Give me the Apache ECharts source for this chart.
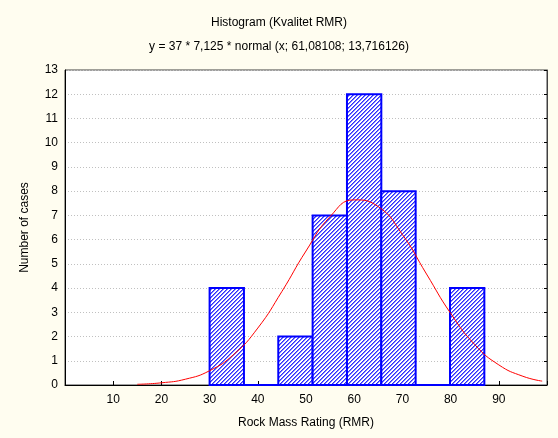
<!DOCTYPE html>
<html>
<head>
<meta charset="utf-8">
<title>Histogram (Kvalitet RMR)</title>
<script src="https://cdn.jsdelivr.net/npm/echarts@6/dist/echarts.min.js"></script>
<style>
    html, body { margin: 0; padding: 0; background: #fffdf0; }
    #chart { width: 558px; height: 438px; }
</style>
</head>
<body>
<div id="chart"></div>
<script>
//分组边界 (RMR)
var binEdges = [30, 37.125, 44.25, 51.375, 58.5, 65.625, 72.75, 79.875, 87];
//每组个数
var binCounts = [4, 0, 2, 7, 12, 8, 0, 4];
//正态曲线
var curveX = [15, 20, 25, 30, 35, 40, 45, 50, 55, 60, 65, 70, 75, 80, 85, 90, 95, 99];
var curveY = [0.03, 0.09, 0.24, 0.59, 1.26, 2.35, 3.86, 5.53, 6.95, 7.64, 7.36, 6.21, 4.58, 2.96, 1.67, 0.83, 0.36, 0.16];
//刻度
var xTicks = [10, 20, 30, 40, 50, 60, 70, 80, 90];

var chart;

//初始化
function init() {
    chart = echarts.init(document.getElementById('chart'));
    chart.setOption(buildOption());
}

//斜线填充
function hatchPattern() {
    var c = document.createElement('canvas');
    c.width = 4;
    c.height = 4;
    var ctx = c.getContext('2d');
    ctx.fillStyle = 'rgb(255,255,255)';
    ctx.fillRect(0, 0, 4, 4);
    ctx.fillStyle = 'rgb(45,45,255)';
    for (var i = 0; i < 4; i++) {
        ctx.fillRect(i, 3 - i, 1, 1);
    }
    ctx.fillStyle = 'rgb(125,125,255)';
    for (var j = 0; j < 4; j++) {
        ctx.fillRect((j + 1) % 4, 3 - j, 1, 1);
    }
    return c;
}

function buildOption() {
    var pattern = hatchPattern();
    var bins = [];
    for (var i = 0; i < binCounts.length; i++) {
        bins.push([binEdges[i], binEdges[i + 1], binCounts[i]]);
    }
    var curve = [];
    for (var k = 0; k < curveX.length; k++) {
        curve.push([curveX[k], curveY[k]]);
    }
    var font = 'Liberation Sans, Arial, sans-serif';

    return {
        backgroundColor: '#fffdf0',
        animation: false,
        textStyle: { fontFamily: font },
        title: [
            {
                text: 'Histogram (Kvalitet RMR)',
                left: 'center',
                top: 12,
                textStyle: { fontSize: 12, fontWeight: 'normal', color: '#000', fontFamily: font }
            },
            {
                text: 'y = 37 * 7,125 * normal (x; 61,08108; 13,716126)',
                left: 'center',
                top: 36,
                textStyle: { fontSize: 12, fontWeight: 'normal', color: '#000', fontFamily: font }
            }
        ],
        grid: {
            left: 65,
            right: 11,
            top: 70,
            bottom: 53,
            show: true,
            backgroundColor: '#ffffff',
            borderColor: '#404040',
            borderWidth: 1
        },
        xAxis: {
            type: 'value',
            min: 0,
            max: 100,
            interval: 10,
            name: 'Rock Mass Rating (RMR)',
            nameLocation: 'middle',
            nameGap: 32,
            nameTextStyle: { fontSize: 12, color: '#000' },
            axisLine: { show: true, lineStyle: { color: '#000', width: 1 } },
            axisTick: { show: true, inside: true, length: 4, lineStyle: { color: '#000' } },
            axisLabel: {
                fontSize: 12,
                color: '#000',
                margin: 9,
                formatter: function (v) {
                    return xTicks.indexOf(v) >= 0 ? String(v) : '';
                }
            },
            splitLine: { show: false }
        },
        yAxis: [
            {
                type: 'value',
                min: 0,
                max: 13,
                interval: 1,
                name: 'Number of cases',
                nameLocation: 'middle',
                nameGap: 34,
                nameTextStyle: { fontSize: 12, color: '#000' },
                axisLine: { show: true, lineStyle: { color: '#000', width: 1 } },
                axisTick: { show: false },
                axisLabel: { fontSize: 12, color: '#000', margin: 7 },
                splitLine: { show: true, lineStyle: { color: '#c0c0c0', type: [1, 2] } }
            },
            {
                type: 'value',
                position: 'right',
                min: 0,
                max: 13,
                interval: 1,
                axisLine: { show: true, lineStyle: { color: '#404040' } },
                axisTick: { show: true, inside: true, length: 3, lineStyle: { color: '#000' } },
                axisLabel: { show: false },
                splitLine: { show: false }
            }
        ],
        series: [
            {
                type: 'custom',
                name: 'bins',
                data: bins,
                encode: { x: [0, 1], y: 2 },
                renderItem: function (params, api) {
                    var p0 = api.coord([api.value(0), api.value(2)]);
                    var p1 = api.coord([api.value(1), 0]);
                    return {
                        type: 'rect',
                        shape: { x: p0[0], y: p0[1], width: p1[0] - p0[0], height: p1[1] - p0[1] },
                        style: {
                            fill: { image: pattern, repeat: 'repeat' },
                            stroke: '#0000ff',
                            lineWidth: 2
                        }
                    };
                },
                z: 2
            },
            {
                type: 'line',
                name: 'normal',
                data: curve,
                smooth: true,
                symbol: 'none',
                lineStyle: { color: '#ff0000', width: 1 },
                z: 5
            }
        ]
    };
}

init();
</script>
</body>
</html>
